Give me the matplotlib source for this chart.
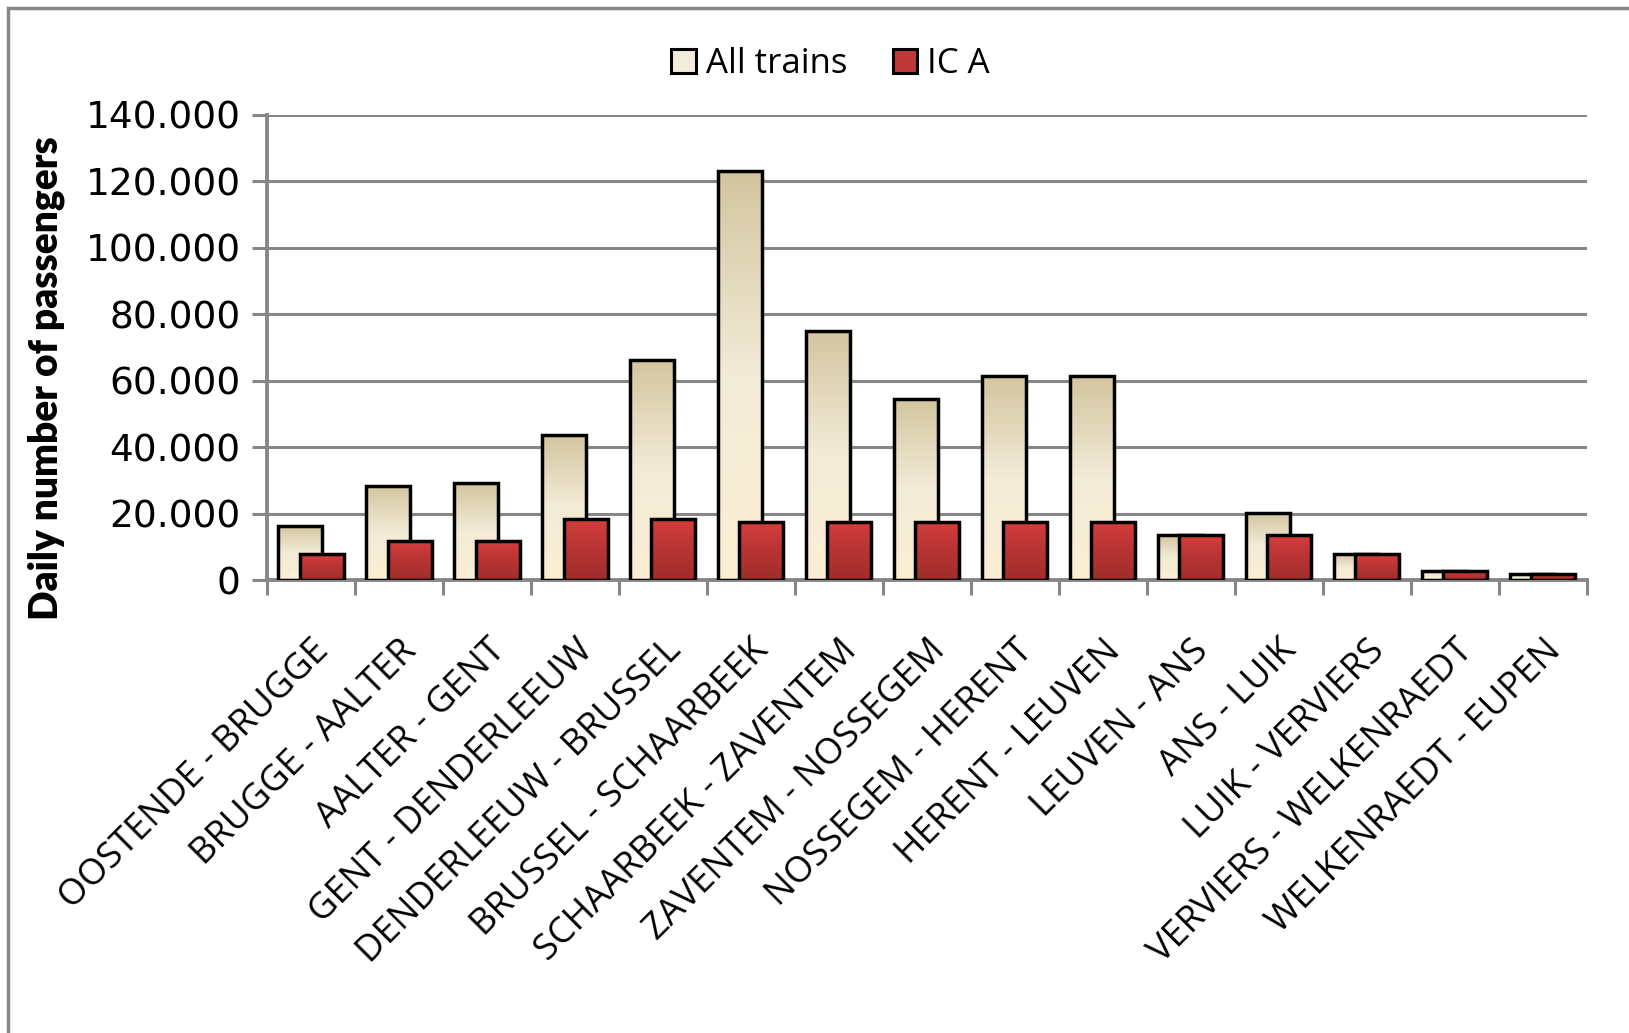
import numpy as np
import matplotlib
matplotlib.use("Agg")
import matplotlib.pyplot as plt
from matplotlib.colors import LinearSegmentedColormap
from matplotlib.patches import Rectangle, Patch

# Route sections and daily passenger counts
sections = [
    "OOSTENDE - BRUGGE", "BRUGGE - AALTER", "AALTER - GENT", "GENT - DENDERLEEUW",
    "DENDERLEEUW - BRUSSEL", "BRUSSEL - SCHAARBEEK", "SCHAARBEEK - ZAVENTEM",
    "ZAVENTEM - NOSSEGEM", "NOSSEGEM - HERENT", "HERENT - LEUVEN", "LEUVEN - ANS",
    "ANS - LUIK", "LUIK - VERVIERS", "VERVIERS - WELKENRAEDT", "WELKENRAEDT - EUPEN",
]
all_trains = [16400, 28200, 29200, 43800, 66200, 123000, 75000, 54500, 61300, 61300,
              13500, 20300, 7700, 2800, 1700]
ica = [7800, 11600, 11600, 18400, 18400, 17400, 17500, 17500, 17500, 17500,
       13500, 13500, 7700, 2800, 1700]
yticks = [0, 20000, 40000, 60000, 80000, 100000, 120000, 140000]
ytick_labels = ["0", "20.000", "40.000", "60.000", "80.000", "100.000", "120.000", "140.000"]

cream = LinearSegmentedColormap.from_list("cream", ["#FCEFD3", "#F2EBD7", "#D3C59F"])
red = LinearSegmentedColormap.from_list("red", ["#9E2E2C", "#B93434", "#D33F3D"])

fig = plt.figure(figsize=(16.29, 10.33), dpi=100)
ax = fig.add_axes([0.1639, 0.4385, 0.8102, 0.4502])

x = np.arange(len(sections))
w = 0.5
off = 0.12


def gradient_bars(bars, cmap):
    grad = np.linspace(0, 1, 256).reshape(-1, 1)
    for b in bars:
        x0, y0 = b.get_x(), b.get_y()
        bw, bh = b.get_width(), b.get_height()
        im = ax.imshow(grad, cmap=cmap, origin="lower", aspect="auto",
                       extent=(x0, x0 + bw, y0, y0 + bh), zorder=b.get_zorder() - 0.01,
                       interpolation="bilinear")
        im.set_clip_path(b)


b1 = ax.bar(x - off, all_trains, width=w, facecolor="none", edgecolor="black",
            linewidth=2.5, zorder=3)
gradient_bars(b1, cream)
b2 = ax.bar(x + off, ica, width=w, facecolor="none", edgecolor="black",
            linewidth=2.5, zorder=5)
gradient_bars(b2, red)

ax.set_xlim(-0.5, len(sections) - 0.5)
ax.set_ylim(0, 140000)
ax.set_yticks(yticks)
ax.set_yticklabels(ytick_labels, fontsize=27, family="DejaVu Sans")
ax.yaxis.grid(True, color="#878787", linewidth=2.2)
ax.set_axisbelow(True)

ax.set_xticks(np.arange(len(sections) + 1) - 0.5, minor=False)
ax.set_xticklabels([])
ax.set_xticks(x, minor=True)
ax.set_xticklabels(sections, minor=True, rotation=45, ha="right", va="top",
                   rotation_mode="anchor", fontsize=26, family="Open Sans")
ax.tick_params(axis="x", which="minor", length=0, pad=38)
ax.tick_params(axis="x", which="major", length=11, width=2.2, color="#878787")
ax.tick_params(axis="y", length=11, width=2.2, color="#878787", pad=8)

for s in ["top", "right"]:
    ax.spines[s].set_visible(False)
for s in ["left", "bottom"]:
    ax.spines[s].set_color("#878787")
    ax.spines[s].set_linewidth(2.8)

ax.set_ylabel("Daily number of passengers", fontsize=28, fontweight="heavy",
              family="Lato")
ax.yaxis.set_label_coords(-0.153, 0.435)

handles = [Patch(facecolor="#F3ECD8", edgecolor="black", linewidth=2.2),
           Patch(facecolor="#C13838", edgecolor="black", linewidth=2.2)]
fig.legend(handles, ["All trains", "IC A"], loc="center", bbox_to_anchor=(0.51, 0.938),
           ncol=2, frameon=False, prop={"family": "Open Sans", "size": 25},
           handlelength=0.7, handleheight=0.7, handletextpad=0.3, columnspacing=1.3)

# Outer chart frame
fig.patches.append(Rectangle((8 / 1629, -0.1), 1.2, (1033 - 8) / 1033 + 0.1,
                             transform=fig.transFigure, fill=False,
                             edgecolor="#878787", linewidth=2.5))

fig.savefig("out.png", dpi=100)
